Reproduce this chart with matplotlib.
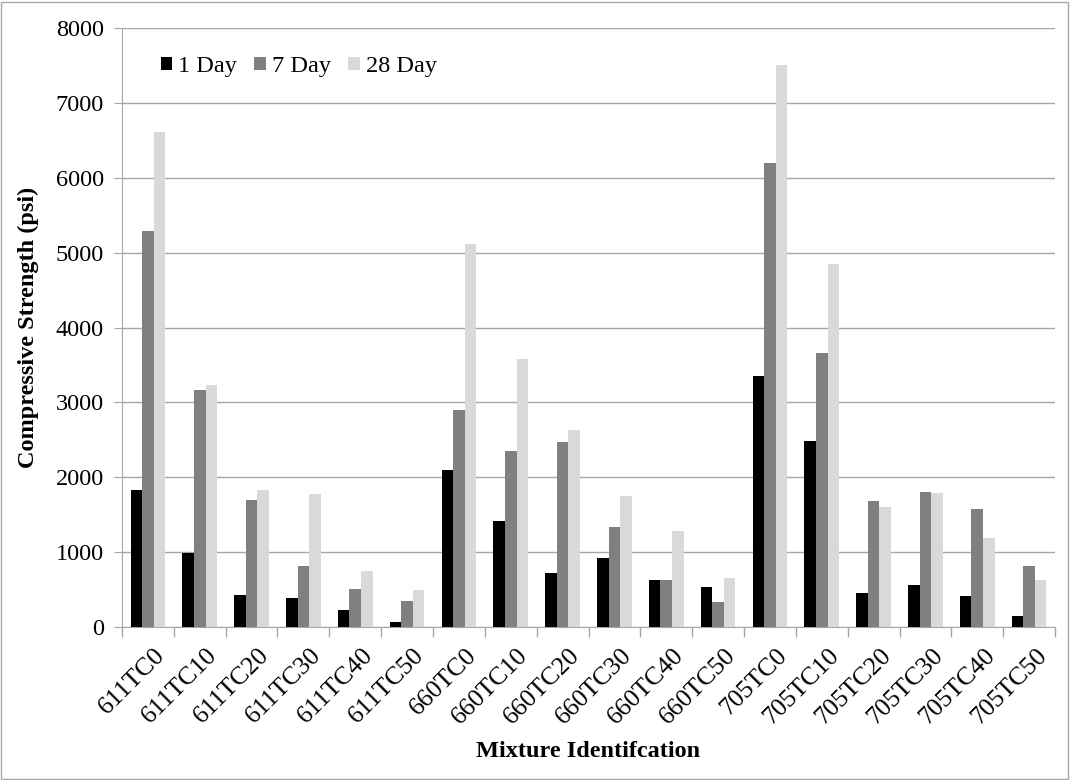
import matplotlib.pyplot as plt
import matplotlib.patches as patches
import matplotlib.transforms as mtransforms
import numpy as np

mixtures = ['611TC0', '611TC10', '611TC20', '611TC30', '611TC40', '611TC50',
            '660TC0', '660TC10', '660TC20', '660TC30', '660TC40', '660TC50',
            '705TC0', '705TC10', '705TC20', '705TC30', '705TC40', '705TC50']

day1 = [1835, 990, 432, 383, 223, 62,
        2098, 1421, 726, 926, 632, 535,
        3350, 2490, 454, 566, 414, 151]
day7 = [5290, 3170, 1697, 820, 512, 343,
        2905, 2356, 2468, 1341, 624, 334,
        6195, 3665, 1688, 1808, 1581, 811]
day28 = [6610, 3235, 1835, 1773, 753, 494,
         5120, 3585, 2632, 1755, 1283, 655,
         7510, 4846, 1604, 1795, 1194, 624]

plt.rcParams['font.family'] = ['Liberation Serif', 'DejaVu Serif']
fs = 17.5

fig = plt.figure(figsize=(10.7, 7.8), dpi=100)
ax = fig.add_axes([0.114, 0.196, 0.872, 0.768])

x = np.arange(len(mixtures))
w = 0.223
ax.bar(x - w, day1, w, color='black', label='1 Day', zorder=3)
ax.bar(x, day7, w, color='#808080', label='7 Day', zorder=3)
ax.bar(x + w, day28, w, color='#d9d9d9', label='28 Day', zorder=3)

ax.set_ylim(0, 8000)
ax.set_xlim(-0.5, len(mixtures) - 0.5)
ax.set_yticks(np.arange(0, 8001, 1000))
ax.yaxis.grid(True, color='#a6a6a6', linewidth=1, zorder=0)
ax.set_axisbelow(True)

ax.set_xticks(x)
ax.set_xticklabels(mixtures, rotation=45, ha='right', va='center', rotation_mode='anchor')
ax.set_xticks(np.arange(-0.5, len(mixtures), 1), minor=True)
ax.tick_params(axis='x', which='major', length=0, pad=18, labelsize=18.5)
ax.tick_params(axis='x', which='minor', length=7, color='#a6a6a6', width=1)
ax.tick_params(axis='y', length=6, color='#a6a6a6', labelsize=fs, pad=7)

# nudge the rotated labels a little to the right
shift = mtransforms.ScaledTranslation(14 / 100, 0, fig.dpi_scale_trans)
for lbl in ax.get_xticklabels():
    lbl.set_transform(lbl.get_transform() + shift)

for side in ['top', 'right']:
    ax.spines[side].set_visible(False)
for side in ['left', 'bottom']:
    ax.spines[side].set_color('#a6a6a6')

ax.set_ylabel('Compressive Strength (psi)', fontsize=fs, fontweight='bold', labelpad=12)
ax.set_xlabel('Mixture Identifcation', fontsize=fs, fontweight='bold')
ax.xaxis.set_label_coords(0.5, -0.19)

ax.legend(loc='upper left', ncol=3, frameon=False, fontsize=fs,
          handlelength=0.48, handleheight=0.48, handletextpad=0.25,
          columnspacing=0.7, bbox_to_anchor=(0.018, 0.99))

fig.patches.append(patches.Rectangle((0.001, 0.001), 0.997, 0.997, transform=fig.transFigure,
                                     fill=False, edgecolor='#a6a6a6', linewidth=1))

fig.savefig('out.png', dpi=100)
